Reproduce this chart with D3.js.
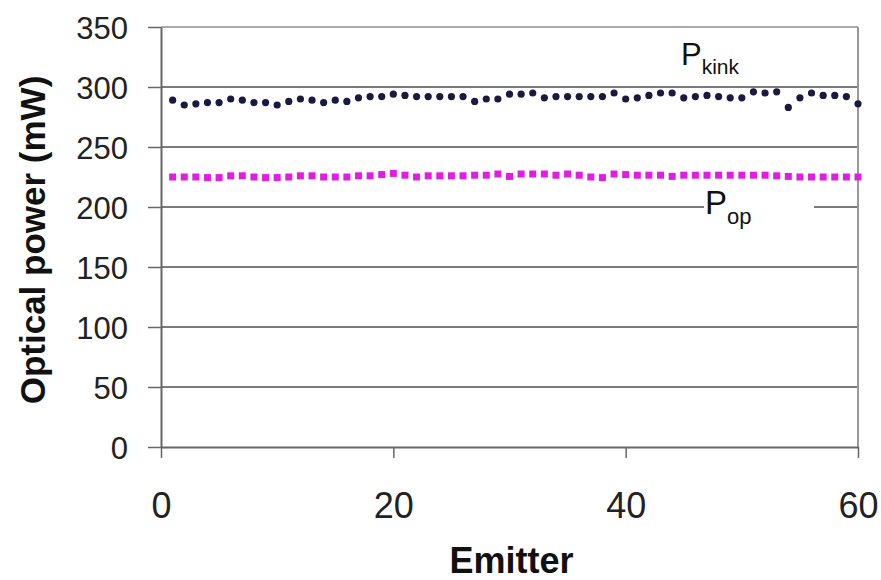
<!DOCTYPE html>
<html>
<head>
<meta charset="utf-8">
<script src="https://cdn.jsdelivr.net/npm/d3@7"></script>
<style>
  body { margin: 0; background: #fff; }
  svg { display: block; font-family: "Liberation Sans", Arial, sans-serif; }
  .tick-label { fill: #222; }
  .axis-title { font-weight: bold; fill: #111; }
</style>
</head>
<body>
<svg id="chart" width="881" height="580"></svg>
<script>
// Emitter numbers along the bar
const emitters = d3.range(1, 61);

// P_kink per emitter (mW)
const pKink = [
  289, 285, 286, 287, 287, 290, 289, 287, 287, 285,
  288, 290, 289, 287, 289, 288, 291, 292, 292, 294,
  293, 292, 292, 292, 292, 292, 288, 290, 290, 294,
  294, 295, 291, 292, 292, 292, 292, 292, 295, 290,
  291, 293, 295, 295, 291, 292, 293, 292, 291, 291,
  296, 295, 296, 283, 291, 295, 293, 293, 292, 286
];

// P_op per emitter (mW)
const pOp = [
  225, 225, 225, 224.5, 224.5, 226, 226, 225, 224.5, 224.5,
  225, 226, 226, 225, 225, 225, 226, 226, 227, 228,
  226.5, 225, 226, 226, 226, 226, 226.5, 226.5, 227.5, 225.5,
  227.5, 227.5, 227.5, 226.5, 227.5, 226.5, 225, 224.5, 227.5, 227,
  226.5, 226.5, 226.5, 225.5, 226.5, 226.5, 226.5, 226.5, 226.5, 226.5,
  226.5, 226.5, 226, 225.5, 225, 225, 225, 225, 225, 225
];

const yTicks = [0, 50, 100, 150, 200, 250, 300, 350];
const xTicks = [0, 20, 40, 60];

class EmitterChart {
  constructor(svg) {
    this.svg = svg;
    this.init();
  }

  init() {
    // plot frame in pixels
    this.left = 161;
    this.right = 858;
    this.top = 27;
    this.bottom = 447;

    this.xScale = d3.scaleLinear().domain([0, 60]).range([this.left, this.right]);
    this.yScale = d3.scaleLinear().domain([0, 350]).range([this.bottom, this.top]);

    this.update();
  }

  update() {
    const x = this.xScale;
    const y = this.yScale;
    const svg = this.svg;

    // horizontal gridlines (top one lighter, acts as the frame)
    svg.append('g')
      .selectAll('line')
      .data(yTicks.filter(d => d > 0))
      .join('line')
      .attr('x1', this.left)
      .attr('x2', this.right)
      .attr('y1', d => y(d))
      .attr('y2', d => y(d))
      .attr('stroke', d => d === 350 ? '#aaa' : '#7a7a7a')
      .attr('stroke-width', 2);

    // right frame line
    svg.append('line')
      .attr('x1', this.right).attr('x2', this.right)
      .attr('y1', this.top).attr('y2', this.bottom)
      .attr('stroke', '#999')
      .attr('stroke-width', 2);

    // y axis
    const yAxis = svg.append('g')
      .attr('transform', `translate(${this.left},0)`)
      .call(d3.axisLeft(y).tickValues(yTicks).tickSize(13).tickSizeOuter(0).tickPadding(20));
    yAxis.select('.domain').attr('stroke', '#666').attr('stroke-width', 2);
    yAxis.selectAll('.tick line').attr('stroke', '#666').attr('stroke-width', 1.5);
    yAxis.selectAll('.tick text')
      .attr('class', 'tick-label')
      .attr('font-family', '"Liberation Sans", Arial, sans-serif')
      .attr('font-size', 31)
      .attr('dy', '0.36em');

    // x axis
    const xAxis = svg.append('g')
      .attr('transform', `translate(0,${this.bottom})`)
      .call(d3.axisBottom(x).tickValues(xTicks).tickSize(11).tickSizeOuter(0).tickPadding(0));
    xAxis.select('.domain').attr('stroke', '#666').attr('stroke-width', 2);
    xAxis.selectAll('.tick line').attr('stroke', '#666').attr('stroke-width', 1.5);
    xAxis.selectAll('.tick text')
      .attr('class', 'tick-label')
      .attr('font-family', '"Liberation Sans", Arial, sans-serif')
      .attr('font-size', 36)
      .attr('dy', null)
      .attr('y', 71);

    // P_op label sits over the 200 gridline with a white patch behind it
    svg.append('rect')
      .attr('x', 704).attr('y', y(200) - 8)
      .attr('width', 110).attr('height', 16)
      .attr('fill', '#fff');

    const opLabel = svg.append('text')
      .attr('x', 705).attr('y', 214)
      .attr('font-size', 33)
      .attr('fill', '#111');
    opLabel.append('tspan').text('P');
    opLabel.append('tspan').attr('dy', 10).attr('font-size', 22).text('op');

    const kinkLabel = svg.append('text')
      .attr('x', 681).attr('y', 65)
      .attr('font-size', 31)
      .attr('fill', '#111');
    kinkLabel.append('tspan').text('P');
    kinkLabel.append('tspan').attr('dy', 9).attr('font-size', 21).text('kink');

    // P_op markers: magenta squares
    svg.append('g')
      .selectAll('rect')
      .data(pOp)
      .join('rect')
      .attr('x', (d, i) => x(emitters[i]) - 3.5)
      .attr('y', d => y(d) - 3.5)
      .attr('width', 7)
      .attr('height', 7)
      .attr('fill', '#e21de2');

    // P_kink markers: dark dots
    svg.append('g')
      .selectAll('circle')
      .data(pKink)
      .join('circle')
      .attr('cx', (d, i) => x(emitters[i]))
      .attr('cy', d => y(d))
      .attr('r', 3.6)
      .attr('fill', '#1a1a40');

    // axis titles
    svg.append('text')
      .attr('class', 'axis-title')
      .attr('x', (this.left + this.right) / 2 + 2)
      .attr('y', 573)
      .attr('text-anchor', 'middle')
      .attr('font-size', 36)
      .text('Emitter');

    svg.append('text')
      .attr('class', 'axis-title')
      .attr('transform', 'translate(45,240) rotate(-90)')
      .attr('text-anchor', 'middle')
      .attr('font-size', 35)
      .text('Optical power (mW)');
  }
}

new EmitterChart(d3.select('#chart'));
</script>
</body>
</html>
